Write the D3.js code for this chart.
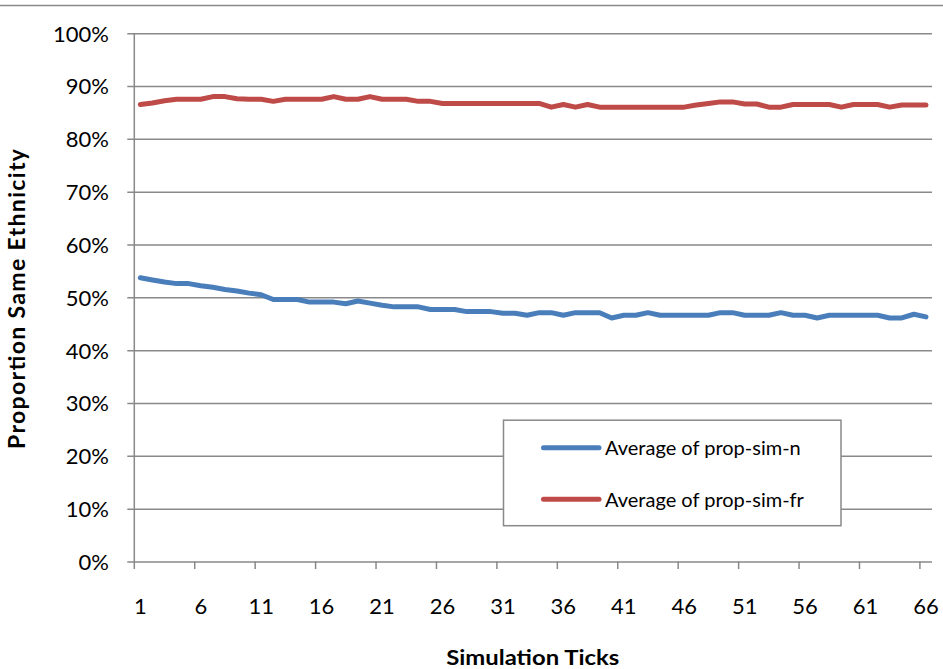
<!DOCTYPE html>
<html>
<head>
<meta charset="utf-8">
<script src="https://cdn.jsdelivr.net/npm/d3@7"></script>
<style>
  html, body { margin: 0; padding: 0; background: #fff; }
  svg { display: block; }
  text { font-family: Lato, "Open Sans", sans-serif; fill: #000; }
</style>
</head>
<body>
<svg id="chart" width="943" height="669"></svg>
<script>
const categories = [1,2,3,4,5,6,7,8,9,10,11,12,13,14,15,16,17,18,19,20,21,22,23,24,25,26,27,28,29,30,31,32,33,34,35,36,37,38,39,40,41,42,43,44,45,46,47,48,49,50,51,52,53,54,55,56,57,58,59,60,61,62,63,64,65,66];

const propSimN = [53.7,53.3,52.9,52.6,52.6,52.2,51.9,51.5,51.2,50.8,50.5,49.6,49.6,49.6,49.1,49.1,49.1,48.8,49.3,48.9,48.5,48.2,48.2,48.2,47.7,47.7,47.7,47.3,47.3,47.3,47.0,47.0,46.6,47.1,47.1,46.6,47.1,47.1,47.1,46.1,46.6,46.6,47.1,46.6,46.6,46.6,46.6,46.6,47.1,47.1,46.6,46.6,46.6,47.1,46.6,46.6,46.1,46.6,46.6,46.6,46.6,46.6,46.1,46.1,46.8,46.3];

const propSimFr = [86.5,86.8,87.2,87.5,87.5,87.5,88.0,88.0,87.6,87.5,87.5,87.1,87.5,87.5,87.5,87.5,88.0,87.5,87.5,88.0,87.5,87.5,87.5,87.1,87.1,86.7,86.7,86.7,86.7,86.7,86.7,86.7,86.7,86.7,86.0,86.5,86.0,86.5,86.0,86.0,86.0,86.0,86.0,86.0,86.0,86.0,86.4,86.7,87.0,87.0,86.6,86.6,86.0,86.0,86.5,86.5,86.5,86.5,86.0,86.5,86.5,86.5,86.0,86.4,86.4,86.4];

const yTicks = [0,10,20,30,40,50,60,70,80,90,100];
const xTickLabels = [1,6,11,16,21,26,31,36,41,46,51,56,61,66];

const seriesNames = ["Average of prop-sim-n", "Average of prop-sim-fr"];
const seriesColors = ["#4A7EBB", "#BE4B48"];
const seriesData = [propSimN, propSimFr];

const yTitle = "Proportion Same Ethnicity";
const xTitle = "Simulation Ticks";

const svg = d3.select("#chart");
const plot = { left: 134.3, right: 932, top: 33.2, bottom: 561.5 };
const gridColor = "#898989";

const x = d3.scaleBand().domain(categories).range([plot.left, plot.right]).paddingInner(0).paddingOuter(0);
const y = d3.scaleLinear().domain([0, 100]).range([plot.bottom, plot.top]);

// top border line
svg.append("line")
  .attr("x1", 0).attr("x2", 943).attr("y1", 5.5).attr("y2", 5.5)
  .attr("stroke", gridColor).attr("stroke-width", 1.5);

// Y axis with gridlines
const yAxis = d3.axisLeft(y).tickValues(yTicks)
  .tickSize(plot.right - plot.left + 7)
  .tickFormat(d => d + "%");
const yg = svg.append("g").attr("transform", `translate(${plot.right},0)`).call(yAxis);
yg.select(".domain").remove();
yg.selectAll(".tick line").attr("stroke", gridColor).attr("stroke-width", 1.5);
yg.selectAll(".tick text")
  .attr("x", -(plot.right - 109))
  .attr("dy", "0.36em")
  .style("font-size", "22px")
  .style("font-family", "Lato, sans-serif")
  .attr("fill", "#000");

// vertical axis line
svg.append("line")
  .attr("x1", plot.left).attr("x2", plot.left)
  .attr("y1", plot.top).attr("y2", plot.bottom + 7.5)
  .attr("stroke", gridColor).attr("stroke-width", 1.5);

// X axis tick marks at category boundaries + labels
const xg = svg.append("g");
xg.selectAll("line.xt").data(xTickLabels.slice(1)).join("line")
  .attr("class", "xt")
  .attr("x1", d => x(d)).attr("x2", d => x(d))
  .attr("y1", plot.bottom).attr("y2", plot.bottom + 7.5)
  .attr("stroke", gridColor).attr("stroke-width", 1.5);
xg.selectAll("text").data(xTickLabels).join("text")
  .attr("x", d => x(d) + x.bandwidth() / 2)
  .attr("y", 613.5)
  .attr("text-anchor", "middle")
  .style("font-size", "22px")
  .text(d => d);

// Series lines
const line = d3.line()
  .x((d, i) => x(categories[i]) + x.bandwidth() / 2)
  .y(d => y(d));
seriesData.forEach((s, k) => {
  svg.append("path")
    .datum(s)
    .attr("d", line)
    .attr("fill", "none")
    .attr("stroke", seriesColors[k])
    .attr("stroke-width", 5)
    .attr("stroke-linejoin", "round")
    .attr("stroke-linecap", "round");
});

// Legend
const lg = svg.append("g");
lg.append("rect")
  .attr("x", 503.5).attr("y", 420.2).attr("width", 337.5).attr("height", 105.5)
  .attr("fill", "#fff").attr("stroke", gridColor).attr("stroke-width", 1.5);
const legendY = [447.7, 499.3];
seriesNames.forEach((name, k) => {
  lg.append("line")
    .attr("x1", 543.5).attr("x2", 599)
    .attr("y1", legendY[k]).attr("y2", legendY[k])
    .attr("stroke", seriesColors[k]).attr("stroke-width", 5)
    .attr("stroke-linecap", "round");
  lg.append("text")
    .attr("x", 605).attr("y", legendY[k] + 7.3)
    .style("font-size", "20px")
    .text(name);
});

// Axis titles
svg.append("text")
  .attr("x", 532.7).attr("y", 664.5)
  .attr("text-anchor", "middle")
  .attr("textLength", 173).attr("lengthAdjust", "spacingAndGlyphs")
  .style("font-size", "21px").style("font-weight", "bold")
  .text(xTitle);
svg.append("text")
  .attr("transform", `translate(25, 299) rotate(-90)`)
  .attr("text-anchor", "middle")
  .attr("textLength", 300).attr("lengthAdjust", "spacing")
  .style("font-size", "23px").style("font-weight", "bold")
  .text(yTitle);
</script>
</body>
</html>
